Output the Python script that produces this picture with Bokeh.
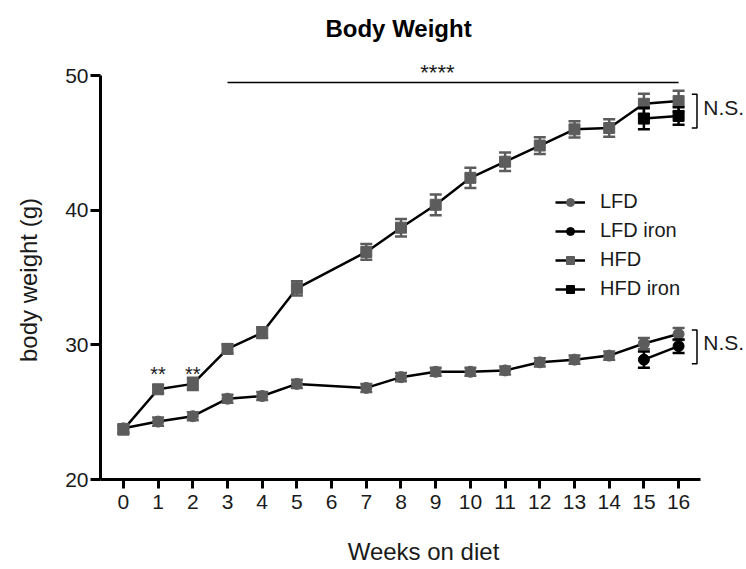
from bokeh.plotting import figure
from bokeh.models import Range1d, FixedTicker, Legend, LegendItem, Label
from bokeh.embed import file_html
from bokeh.resources import INLINE

# ---------------- data ----------------
weeks = [0, 1, 2, 3, 4, 5, 7, 8, 9, 10, 11, 12, 13, 14, 15, 16]
lfd = [23.8, 24.3, 24.7, 26.0, 26.2, 27.1, 26.8, 27.6, 28.0, 28.0, 28.1, 28.7, 28.9, 29.2, 30.1, 30.8]
lfd_err = [0.3, 0.3, 0.3, 0.3, 0.3, 0.3, 0.3, 0.3, 0.3, 0.3, 0.3, 0.3, 0.3, 0.3, 0.4, 0.45]
hfd = [23.7, 26.7, 27.1, 29.7, 30.9, 34.2, 36.9, 38.7, 40.4, 42.4, 43.6, 44.8, 46.0, 46.1, 47.9, 48.1]
hfd_err = [0.3, 0.3, 0.45, 0.35, 0.4, 0.53, 0.59, 0.65, 0.77, 0.75, 0.69, 0.62, 0.6, 0.65, 0.75, 0.77]
iron_weeks = [15, 16]
lfd_iron = [28.9, 29.9]
lfd_iron_err = [0.6, 0.5]
hfd_iron = [46.8, 47.0]
hfd_iron_err = [0.8, 0.65]
x_ticks = list(range(17))
y_ticks = [20, 30, 40, 50]
series_names = ["LFD", "LFD iron", "HFD", "HFD iron"]
title_text = "Body Weight"
y_label = "body weight (g)"
x_label = "Weeks on diet"
sig_weeks = [3, 16]
sig_level = 49.48
ns_upper = [48.6, 46.1]
ns_lower = [31.1, 28.6]

GRAY = "#5c5c5c"
FONT = "Liberation Sans"

# frame spans the full top and right of the canvas so that the title and
# N.S. annotations (outside the axes) are not clipped; axes are bounded.
p = figure(width=746, height=569, output_backend="svg", toolbar_location=None,
           x_range=Range1d(-0.66, 17.957), y_range=Range1d(20, 55.57),
           min_border_left=100, min_border_right=0, min_border_top=0,
           min_border_bottom=90)

p.xgrid.visible = False
p.ygrid.visible = False
p.outline_line_color = None
p.background_fill_color = "white"

for ax in (p.xaxis[0], p.yaxis[0]):
    ax.axis_line_width = 3
    ax.axis_line_color = "black"
    ax.major_tick_line_width = 3
    ax.major_tick_line_color = "black"
    ax.major_tick_in = 0
    ax.minor_tick_line_color = None
    ax.major_label_text_font = FONT
    ax.major_label_text_font_size = "21px"
    ax.major_label_text_color = "#1a1a1a"
    ax.axis_label_text_font = FONT
    ax.axis_label_text_font_size = "24px"
    ax.axis_label_text_font_style = "normal"
    ax.axis_label_text_color = "#1a1a1a"

p.xaxis.ticker = FixedTicker(ticks=x_ticks)
p.yaxis.ticker = FixedTicker(ticks=y_ticks)
p.xaxis.bounds = (-0.66, 16.63)
p.yaxis.bounds = (20, 50)
p.xaxis.major_tick_out = 9
p.yaxis.major_tick_out = 10
p.xaxis.major_label_standoff = 6
p.yaxis.major_label_standoff = 2
p.xaxis.axis_label = x_label
# the label is centred on the (taller) frame; trailing no-break spaces shift
# the visible text down so it is centred on the bounded axis line (20-50)
p.yaxis.axis_label = y_label + "\u00a0" * 12
p.xaxis.axis_label_standoff = 26
p.yaxis.axis_label_standoff = 20


def errorbars(xs, ys, errs, color):
    lo = [y - e for y, e in zip(ys, errs)]
    hi = [y + e for y, e in zip(ys, errs)]
    p.segment(x0=xs, y0=lo, x1=xs, y1=hi, line_color=color, line_width=2.5)
    p.scatter(xs, lo, marker="dash", size=12, line_color=color, line_width=2.5)
    p.scatter(xs, hi, marker="dash", size=12, line_color=color, line_width=2.5)


# connecting lines
l_lfd = p.line(weeks, lfd, line_color="black", line_width=2.5)
l_hfd = p.line(weeks, hfd, line_color="black", line_width=2.5)
l_lfdi = p.line(iron_weeks, lfd_iron, line_color="black", line_width=2.5)
l_hfdi = p.line(iron_weeks, hfd_iron, line_color="black", line_width=2.5)

# gray series
errorbars(weeks, lfd, lfd_err, GRAY)
errorbars(weeks, hfd, hfd_err, GRAY)
m_lfd = p.scatter(weeks, lfd, marker="circle", size=11, fill_color=GRAY, line_color=GRAY)
m_hfd = p.scatter(weeks, hfd, marker="square", size=11, fill_color=GRAY, line_color=GRAY)

# iron series
errorbars(iron_weeks, lfd_iron, lfd_iron_err, "black")
errorbars(iron_weeks, hfd_iron, hfd_iron_err, "black")
m_lfdi = p.scatter(iron_weeks, lfd_iron, marker="circle", size=11, fill_color="black", line_color="black")
m_hfdi = p.scatter(iron_weeks, hfd_iron, marker="square", size=11, fill_color="black", line_color="black")

# significance annotations
p.segment(x0=[sig_weeks[0]], y0=[sig_level], x1=[sig_weeks[1]], y1=[sig_level],
          line_color="black", line_width=1.5)
bx0, bx1 = 16.38, 16.53
p.line([bx0, bx1, bx1, bx0], [ns_upper[0], ns_upper[0], ns_upper[1], ns_upper[1]],
       line_color="black", line_width=1.5)
p.line([bx0, bx1, bx1, bx0], [ns_lower[0], ns_lower[0], ns_lower[1], ns_lower[1]],
       line_color="black", line_width=1.5)

# title
p.add_layout(Label(x=7.93, y=53.49, text=title_text, text_font=FONT,
                   text_font_size="24px", text_font_style="bold",
                   text_align="center", text_baseline="alphabetic",
                   text_color="#000000"))

for txt, x, y, size, align, base in [
    ("****", 9.05, 50.19, "22px", "center", "alphabetic"),
    ("**", 1, 27.83, "20px", "center", "alphabetic"),
    ("**", 2, 27.83, "20px", "center", "alphabetic"),
    ("N.S.", 16.71, 47.62, "21px", "left", "middle"),
    ("N.S.", 16.71, 30.17, "21px", "left", "middle"),
]:
    p.add_layout(Label(x=x, y=y, text=txt, text_font=FONT, text_font_size=size,
                       text_align=align, text_baseline=base, text_color="#1a1a1a"))

legend = Legend(items=[
    LegendItem(label=series_names[0], renderers=[l_lfd, m_lfd]),
    LegendItem(label=series_names[1], renderers=[l_lfdi, m_lfdi]),
    LegendItem(label=series_names[2], renderers=[l_hfd, m_hfd]),
    LegendItem(label=series_names[3], renderers=[l_hfdi, m_hfdi]),
], location=(455, 179))
legend.label_text_font = FONT
legend.label_text_font_size = "20px"
legend.label_text_color = "#1a1a1a"
legend.border_line_color = None
legend.background_fill_alpha = 0
legend.glyph_width = 30
legend.glyph_height = 20
legend.label_height = 20
legend.spacing = 6
legend.padding = 0
legend.margin = 0
legend.label_standoff = 15
p.add_layout(legend, "center")

open("out.html", "w").write(file_html(p, INLINE))
